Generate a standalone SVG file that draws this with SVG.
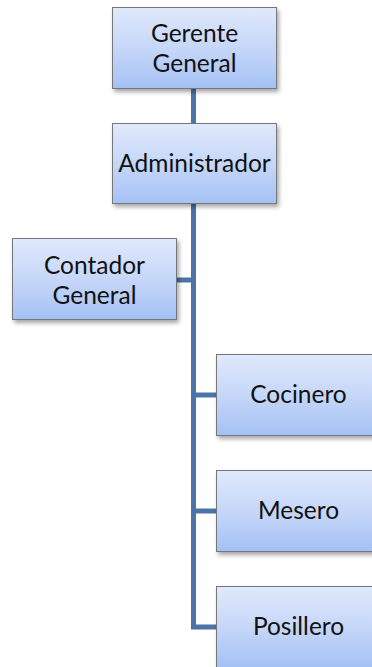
<svg xmlns="http://www.w3.org/2000/svg" width="372" height="667" viewBox="0 0 372 667">
<defs>
<linearGradient id="g" x1="0" y1="0" x2="0" y2="1">
<stop offset="0" stop-color="#e0e9fc"/>
<stop offset="0.55" stop-color="#c3d5f8"/>
<stop offset="1" stop-color="#a4c1f5"/>
</linearGradient>
<filter id="sh" x="-10%" y="-10%" width="125%" height="130%">
<feDropShadow dx="2" dy="3" stdDeviation="2" flood-color="#000" flood-opacity="0.35"/>
</filter>
</defs>
<style>
.box{fill:url(#g);stroke:#777;stroke-width:1;filter:url(#sh)}
.t{font-family:Lato,"Open Sans","Liberation Sans",sans-serif;font-size:24.5px;fill:#111;text-anchor:middle}
.c{fill:none;stroke:#4a73a8;stroke-width:5;stroke-linejoin:miter}
</style>
<g id="connectors">
<path class="c" d="M193.5 88 V627 H217"/>
<path class="c" d="M177 280 H193.5"/>
<path class="c" d="M193.5 395 H217"/>
<path class="c" d="M193.5 511 H217"/>
</g>
<g id="gerente">
<rect class="box" x="112.5" y="7.5" width="164" height="81"/>
<text class="t" x="194.5" y="42">Gerente</text>
<text class="t" x="194.5" y="71.5">General</text>
</g>
<g id="administrador">
<rect class="box" x="112.5" y="123.5" width="164" height="80"/>
<text class="t" x="194.5" y="172">Administrador</text>
</g>
<g id="contador">
<rect class="box" x="12.5" y="238.5" width="164" height="81"/>
<text class="t" x="94.5" y="274">Contador</text>
<text class="t" x="94.5" y="303.5">General</text>
</g>
<g id="cocinero">
<rect class="box" x="216.5" y="354.5" width="164" height="81"/>
<text class="t" x="298.5" y="403">Cocinero</text>
</g>
<g id="mesero">
<rect class="box" x="216.5" y="470.5" width="164" height="81"/>
<text class="t" x="298.5" y="519">Mesero</text>
</g>
<g id="posillero">
<rect class="box" x="216.5" y="586.5" width="164" height="81"/>
<text class="t" x="298.5" y="635">Posillero</text>
</g>
</svg>
